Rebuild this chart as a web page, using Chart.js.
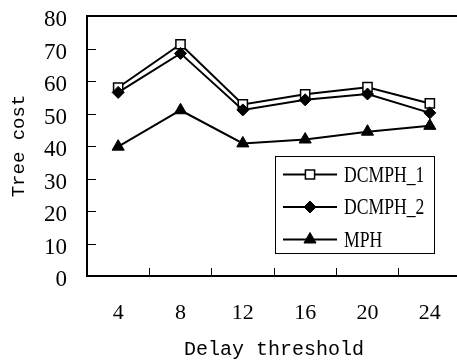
<!DOCTYPE html>
<html>
<head>
<meta charset="utf-8">
<script src="https://cdn.jsdelivr.net/npm/chart.js@4.4.0/dist/chart.umd.min.js"></script>
<style>
html, body { margin: 0; padding: 0; background: #fff; overflow: hidden; }
#wrap { width: 457px; height: 361px; overflow: hidden; }
</style>
</head>
<body>
<div id="wrap"><canvas id="myChart" width="475" height="361"></canvas></div>
<script>
var categories = ['4', '8', '12', '16', '20', '24'];
var seriesNames = ['DCMPH_1', 'DCMPH_2', 'MPH'];
var dcmph1 = [58.0, 71.3, 52.8, 55.9, 58.1, 53.1];
var dcmph2 = [56.5, 68.5, 51.1, 54.2, 56.0, 50.2];
var mph = [39.8, 51.0, 40.8, 42.0, 44.4, 46.2];
var yTicks = [0, 10, 20, 30, 40, 50, 60, 70, 80];

// y tick marks pointing into the plot
var innerTicks = {
    id: 'innerTicks',
    afterDraw: function (chart) {
        var ctx = chart.ctx;
        var ys = chart.scales.y;
        ctx.save();
        ctx.strokeStyle = '#000';
        ctx.lineWidth = 1;
        yTicks.forEach(function (v) {
            var py = Math.round(ys.getPixelForValue(v)) + 0.5;
            ctx.beginPath();
            ctx.moveTo(ys.right, py);
            ctx.lineTo(ys.right + 9, py);
            ctx.stroke();
        });
        ctx.restore();
    }
};

// legend drawn inside the plot, line + marker like the original
var boxLegend = {
    id: 'boxLegend',
    afterDraw: function (chart) {
        var ctx = chart.ctx;
        var x0 = 275, y0 = 156, w = 159, h = 97;
        ctx.save();
        ctx.fillStyle = '#fff';
        ctx.fillRect(x0, y0, w, h);
        ctx.strokeStyle = '#000';
        ctx.lineWidth = 1;
        ctx.strokeRect(x0 + 0.5, y0 + 0.5, w, h);
        var rows = [174.5, 207, 239.5];
        chart.data.datasets.forEach(function (ds, i) {
            var y = rows[i];
            ctx.strokeStyle = '#000';
            ctx.lineWidth = 2;
            ctx.beginPath();
            ctx.moveTo(283, y);
            ctx.lineTo(337, y);
            ctx.stroke();
            ctx.fillStyle = ds.pointBackgroundColor;
            ctx.strokeStyle = ds.pointBorderColor;
            ctx.lineWidth = ds.pointBorderWidth;
            Chart.helpers.drawPoint(ctx, {
                pointStyle: ds.pointStyle,
                radius: ds.pointRadius,
                rotation: 0,
                borderWidth: ds.pointBorderWidth
            }, 310, y);
            ctx.save();
            ctx.translate(344, y);
            ctx.scale(0.84, 1.08);
            ctx.fillStyle = '#000';
            ctx.font = '21px "Liberation Serif"';
            ctx.textBaseline = 'middle';
            ctx.fillText(ds.label, 0, 1);
            ctx.restore();
        });
        ctx.restore();
    }
};

var ctx = document.getElementById('myChart').getContext('2d');
var myChart = new Chart(ctx, {
    type: 'line',
    data: {
        labels: categories,
        datasets: [{
            label: seriesNames[0],
            data: dcmph1,
            borderColor: '#000',
            borderWidth: 2,
            pointStyle: 'rect',
            pointRadius: 6.5,
            pointBackgroundColor: '#fff',
            pointBorderColor: '#000',
            pointBorderWidth: 1.5,
            order: 2
        }, {
            label: seriesNames[1],
            data: dcmph2,
            borderColor: '#000',
            borderWidth: 2,
            pointStyle: 'rectRot',
            pointRadius: 6,
            pointBackgroundColor: '#000',
            pointBorderColor: '#000',
            pointBorderWidth: 1,
            order: 1
        }, {
            label: seriesNames[2],
            data: mph,
            borderColor: '#000',
            borderWidth: 2,
            pointStyle: 'triangle',
            pointRadius: 7,
            pointBackgroundColor: '#000',
            pointBorderColor: '#000',
            pointBorderWidth: 1,
            order: 0
        }]
    },
    options: {
        responsive: false,
        animation: false,
        events: [],
        layout: { padding: { left: 0, right: 14, top: 0, bottom: 0 } },
        plugins: {
            legend: { display: false },
            tooltip: { enabled: false }
        },
        scales: {
            x: {
                type: 'category',
                position: 'bottom',
                offset: true,
                grid: { offset: true, drawOnChartArea: false, drawTicks: true, tickLength: -8, color: '#000', lineWidth: 1 },
                border: { display: true, color: '#000', width: 2 },
                ticks: { color: '#000', padding: 32, autoSkip: false, font: { family: 'Liberation Serif', size: 22 }, maxRotation: 0 },
                title: { display: true, text: 'Delay threshold', color: '#000', padding: { top: 0, bottom: 0 },
                    font: { family: 'Liberation Mono', size: 20, lineHeight: 1.1 } },
                afterFit: function (scale) { scale.height = 85; }
            },
            x2: {
                type: 'category',
                position: 'top',
                labels: categories,
                grid: { display: false, drawTicks: false },
                border: { display: true, color: '#000', width: 2 },
                ticks: { display: false },
                afterFit: function (scale) { scale.height = 16; }
            },
            y: {
                min: 0,
                max: 80,
                afterBuildTicks: function (scale) {
                    scale.ticks = yTicks.map(function (v) { return { value: v }; });
                },
                grid: { display: false, drawTicks: false },
                border: { display: true, color: '#000', width: 2 },
                ticks: { color: '#000', padding: 20, labelOffset: 4, autoSkip: false, font: { family: 'Liberation Serif', size: 23 } },
                title: { display: true, text: 'Tree cost', color: '#000', padding: { top: 8, bottom: 0 },
                    font: { family: 'Liberation Mono', size: 19, lineHeight: 1.2 } },
                afterFit: function (scale) {
                    scale.width = 87;
                    scale.paddingTop = 0;
                    scale.paddingBottom = 0;
                }
            }
        }
    },
    plugins: [innerTicks, boxLegend]
});
</script>
</body>
</html>
